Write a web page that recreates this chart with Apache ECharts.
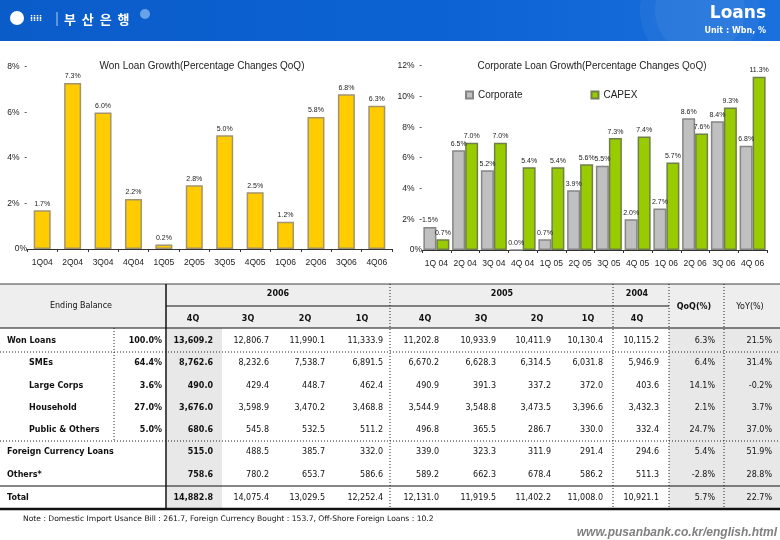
<!DOCTYPE html>
<html>
<head>
<meta charset="utf-8">
<script src="https://cdn.jsdelivr.net/npm/echarts@6/dist/echarts.min.js"></script>
<style>
html,body{margin:0;padding:0;background:#fff;}
#c{width:780px;height:540px;}
</style>
</head>
<body>
<div id="c"></div>
<script>
// ---------- data ----------
const quarters = ['1Q04','2Q04','3Q04','4Q04','1Q05','2Q05','3Q05','4Q05','1Q06','2Q06','3Q06','4Q06'];
const quartersSpaced = ['1Q 04','2Q 04','3Q 04','4Q 04','1Q 05','2Q 05','3Q 05','4Q 05','1Q 06','2Q 06','3Q 06','4Q 06'];
const wonGrowth = [1.7, 7.3, 6.0, 2.2, 0.2, 2.8, 5.0, 2.5, 1.2, 5.8, 6.8, 6.3];
const corporateGrowth = [1.5, 6.5, 5.2, 0.0, 0.7, 3.9, 5.5, 2.0, 2.7, 8.6, 8.4, 6.8];
const capexGrowth = [0.7, 7.0, 7.0, 5.4, 5.4, 5.6, 7.3, 7.4, 5.7, 7.6, 9.3, 11.3];
const leftTicks = [0, 2, 4, 6, 8];
const rightTicks = [0, 2, 4, 6, 8, 10, 12];

const rowLabels = ['Won Loans','SMEs','Large Corps','Household','Public & Others','Foreign Currency Loans','Others*','Total'];
const rowShares = ['100.0%','64.4%','3.6%','27.0%','5.0%','','',''];
const q4_2006 = ['13,609.2','8,762.6','490.0','3,676.0','680.6','515.0','758.6','14,882.8'];
const q3_2006 = ['12,806.7','8,232.6','429.4','3,598.9','545.8','488.5','780.2','14,075.4'];
const q2_2006 = ['11,990.1','7,538.7','448.7','3,470.2','532.5','385.7','653.7','13,029.5'];
const q1_2006 = ['11,333.9','6,891.5','462.4','3,468.8','511.2','332.0','586.6','12,252.4'];
const q4_2005 = ['11,202.8','6,670.2','490.9','3,544.9','496.8','339.0','589.2','12,131.0'];
const q3_2005 = ['10,933.9','6,628.3','391.3','3,548.8','365.5','323.3','662.3','11,919.5'];
const q2_2005 = ['10,411.9','6,314.5','337.2','3,473.5','286.7','311.9','678.4','11,402.2'];
const q1_2005 = ['10,130.4','6,031.8','372.0','3,396.6','330.0','291.4','586.2','11,008.0'];
const q4_2004 = ['10,115.2','5,946.9','403.6','3,432.3','332.4','294.6','511.3','10,921.1'];
const qoq = ['6.3%','6.4%','14.1%','2.1%','24.7%','5.4%','-2.8%','5.7%'];
const yoy = ['21.5%','31.4%','-0.2%','3.7%','37.0%','51.9%','28.8%','22.7%'];
const yearHeaders = ['2006','2005','2004'];
const quarterHeaders = ['4Q','3Q','2Q','1Q','4Q','3Q','2Q','1Q','4Q'];
const noteText = 'Note : Domestic Import Usance Bill : 261.7, Foreign Currency Bought : 153.7, Off-Shore Foreign Loans : 10.2';

// ---------- layout ----------
const NARROW = '"Liberation Sans Narrow","Liberation Sans",Arial,sans-serif';
const TF = '"DejaVu Sans",Verdana,sans-serif';
const valueCols = [q4_2006,q3_2006,q2_2006,q1_2006,q4_2005,q3_2005,q2_2005,q1_2005,q4_2004,qoq,yoy];
const valueRight = [213,269,325,383,439,496,551,603,659,715,772];
const qHeadX = [193,248,305,362,425,481,537,588,637];
const rowY = [341,363,386,408,430,452,475,498];
const rowIndent = [7,29,29,29,29,7,7,7];

const g = [];
// header band
g.push({type:'rect', shape:{x:0,y:0,width:780,height:41}, style:{fill:new echarts.graphic.LinearGradient(0,0,1,0,[{offset:0,color:'#0a5cc9'},{offset:0.6,color:'#0d63d3'},{offset:1,color:'#1a70dd'}])}, z:0});
g.push({type:'circle', shape:{cx:700,cy:10,r:60}, style:{fill:'rgba(255,255,255,0.05)'}, z:1});
g.push({type:'circle', shape:{cx:700,cy:10,r:45}, style:{fill:'rgba(255,255,255,0.05)'}, z:1});
g.push({type:'circle', shape:{cx:145,cy:14,r:5}, style:{fill:'rgba(200,230,255,0.5)'}, z:1});
g.push({type:'circle', shape:{cx:17,cy:18,r:7}, style:{fill:'#ffffff'}, z:2});
g.push({type:'text', style:{text:'⁞⁞⁞⁞', x:30, y:19, fill:'#fff', font:'bold 8px "DejaVu Sans"', textVerticalAlign:'middle'}, z:2});
g.push({type:'line', shape:{x1:57,y1:12,x2:57,y2:26}, style:{stroke:'rgba(255,255,255,0.7)', lineWidth:1}, z:2});
g.push({type:'text', style:{text:'부  산  은  행', x:64, y:19, fill:'#fff', font:'bold 13px "Noto Sans CJK KR"', textVerticalAlign:'middle'}, z:2});
g.push({type:'text', style:{text:'Loans', x:766, y:14, fill:'#fff', font:'bold 17px "DejaVu Sans"', textAlign:'right', textVerticalAlign:'middle'}, z:2});
g.push({type:'text', style:{text:'Unit : Wbn, %', x:766, y:31, fill:'#fff', font:'bold 8px "DejaVu Sans"', textAlign:'right', textVerticalAlign:'middle'}, z:2});

// chart titles
g.push({type:'text', style:{text:'Won Loan Growth(Percentage Changes QoQ)', x:202, y:66, fill:'#222', font:'10px '+NARROW, textAlign:'center', textVerticalAlign:'middle'}});
g.push({type:'text', style:{text:'Corporate Loan Growth(Percentage Changes QoQ)', x:592, y:66, fill:'#222', font:'10px '+NARROW, textAlign:'center', textVerticalAlign:'middle'}});

// table backgrounds
g.push({type:'rect', shape:{x:0,y:284,width:780,height:44}, style:{fill:'#eeeeee'}});
g.push({type:'rect', shape:{x:167,y:328,width:55,height:181}, style:{fill:'#e8e8e8'}});
g.push({type:'rect', shape:{x:669,y:328,width:111,height:181}, style:{fill:'#e8e8e8'}});
// table lines
const solid = (x1,y1,x2,y2,w) => g.push({type:'line', shape:{x1,y1,x2,y2}, style:{stroke:'#111', lineWidth:w||1}});
const dotted = (x1,y1,x2,y2) => g.push({type:'line', shape:{x1,y1,x2,y2}, style:{stroke:'#222', lineWidth:1, lineDash:[1,2]}});
solid(0,284,780,284,0.8);
solid(166,306,669,306,1);
solid(0,328,780,328,1.2);
dotted(0,352,780,352);
dotted(0,441,780,441);
solid(0,486,780,486,1.2);
solid(0,509,780,509,2.5);
solid(166,284,166,509,1.5);
dotted(114,328,114,441);
[390,613,669,724].forEach(x => dotted(x,284,x,509));

// table header texts
g.push({type:'text', style:{text:'Ending Balance', x:81, y:306, fill:'#111', font:'8px '+TF, textAlign:'center', textVerticalAlign:'middle'}});
const yearX = [278,502,637];
yearHeaders.forEach((t,i) => g.push({type:'text', style:{text:t, x:yearX[i], y:294, fill:'#111', font:'bold 8px '+TF, textAlign:'center', textVerticalAlign:'middle'}}));
quarterHeaders.forEach((t,i) => g.push({type:'text', style:{text:t, x:qHeadX[i], y:319, fill:'#111', font:'bold 8px '+TF, textAlign:'center', textVerticalAlign:'middle'}}));
g.push({type:'text', style:{text:'QoQ(%)', x:694, y:307, fill:'#111', font:'bold 8px '+TF, textAlign:'center', textVerticalAlign:'middle'}});
g.push({type:'text', style:{text:'YoY(%)', x:750, y:307, fill:'#111', font:'8px '+TF, textAlign:'center', textVerticalAlign:'middle'}});

// table body
rowLabels.forEach((lab,r) => {
  g.push({type:'text', style:{text:lab, x:rowIndent[r], y:rowY[r], fill:'#111', font:'bold 8px '+TF, textVerticalAlign:'middle'}});
  if (rowShares[r]) g.push({type:'text', style:{text:rowShares[r], x:162, y:rowY[r], fill:'#111', font:'bold 8px '+TF, textAlign:'right', textVerticalAlign:'middle'}});
  valueCols.forEach((col,c) => {
    g.push({type:'text', style:{text:col[r], x:valueRight[c], y:rowY[r], fill:'#111', font:(c===0?'bold ':'')+'8px '+TF, textAlign:'right', textVerticalAlign:'middle'}});
  });
});
g.push({type:'text', style:{text:noteText, x:23, y:519, fill:'#111', font:'7.6px '+TF, textVerticalAlign:'middle'}});
g.push({type:'text', style:{text:'www.pusanbank.co.kr/english.html', x:777, y:533, fill:'#808080', font:'italic bold 12px "Liberation Sans",Arial,sans-serif', textAlign:'right', textVerticalAlign:'middle'}});

const pct = v => v.toFixed(1) + '%';
const yLab = v => v === 0 ? '0%' : v + '%  -';
const labelStyle = {show:true, position:'top', distance:3, fontSize:7, color:'#222', fontFamily:NARROW, formatter: p => pct(p.value)};

const option = {
  animation:false,
  backgroundColor:'#ffffff',
  graphic: g,
  legend: {
    data:['Corporate','CAPEX'], left:460, top:85, itemWidth:7, itemHeight:7, itemGap:68, icon:'rect',
    textStyle:{fontSize:10, color:'#222', fontFamily:NARROW}
  },
  grid: [
    {left:27, right:388, top:67, bottom:291},
    {left:422, right:13, top:66, bottom:290}
  ],
  xAxis: [
    {type:'category', gridIndex:0, data:quarters,
     axisLine:{lineStyle:{color:'#333', width:1}}, axisTick:{show:true, length:3, interval:0, lineStyle:{color:'#333'}},
     axisLabel:{fontSize:8.5, color:'#222', fontFamily:NARROW, margin:9, interval:0}},
    {type:'category', gridIndex:1, data:quartersSpaced,
     axisLine:{lineStyle:{color:'#333', width:1}}, axisTick:{show:true, length:3, interval:0, lineStyle:{color:'#333'}},
     axisLabel:{fontSize:8.5, color:'#222', fontFamily:NARROW, margin:9, interval:0}}
  ],
  yAxis: [
    {type:'value', gridIndex:0, min:leftTicks[0], max:leftTicks[leftTicks.length-1], interval:2,
     axisLine:{show:false}, axisTick:{show:false}, splitLine:{show:false},
     axisLabel:{formatter:yLab, fontSize:8.5, color:'#222', fontFamily:NARROW, margin:0}},
    {type:'value', gridIndex:1, min:rightTicks[0], max:rightTicks[rightTicks.length-1], interval:2,
     axisLine:{show:false}, axisTick:{show:false}, splitLine:{show:false},
     axisLabel:{formatter:yLab, fontSize:8.5, color:'#222', fontFamily:NARROW, margin:0}}
  ],
  series: [
    {name:'Won Loans', type:'bar', xAxisIndex:0, yAxisIndex:0, data:wonGrowth, barWidth:17,
     itemStyle:{color:'#FFCC00', borderColor:'#A3946E', borderWidth:1.5}, label:labelStyle},
    {name:'Corporate', type:'bar', xAxisIndex:1, yAxisIndex:1, data:corporateGrowth, barWidth:13, barGap:'0%',
     itemStyle:{color:'#C0C0C0', borderColor:'#858585', borderWidth:1.5}, label:labelStyle},
    {name:'CAPEX', type:'bar', xAxisIndex:1, yAxisIndex:1, data:capexGrowth, barWidth:13, barGap:'0%',
     itemStyle:{color:'#99CC00', borderColor:'#6F7F4A', borderWidth:1.5}, label:labelStyle}
  ]
};
const chart = echarts.init(document.getElementById('c'));
chart.setOption(option);
</script>
</body>
</html>
